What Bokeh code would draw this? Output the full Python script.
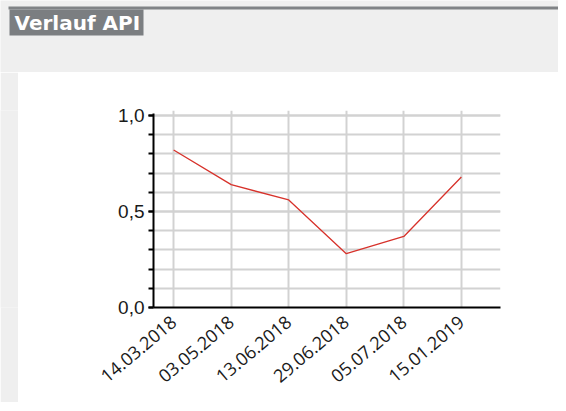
from bokeh.plotting import figure
from bokeh.models import Range1d, FixedTicker, SingleIntervalTicker, Label
from bokeh.layouts import column, row
from bokeh.embed import file_html
from bokeh.resources import INLINE

title_text = "Verlauf API"
dates = ["14.03.2018", "03.05.2018", "13.06.2018", "29.06.2018", "05.07.2018", "15.01.2019"]
api_values = [0.82, 0.64, 0.56, 0.28, 0.37, 0.68]
y_tick_labels = {0: "0,0", 0.5: "0,5", 1: "1,0"}

PAGE_BG = "#efefef"
BAR_GRAY = "#7b7e81"
GRID = "#d2d2d2"

# ---------- header (title bar) ----------
header = figure(width=558, height=72, output_backend="svg", toolbar_location=None,
                x_range=Range1d(0, 558), y_range=Range1d(72, 0),
                x_axis_location=None, y_axis_location=None, min_border=0)
header.background_fill_color = PAGE_BG
header.border_fill_color = PAGE_BG
header.outline_line_color = None
header.grid.visible = False
header.quad(left=[8], right=[558], top=[6], bottom=[9], fill_color="#808386", line_color=None)
header.quad(left=[9], right=[143], top=[9], bottom=[35], fill_color=BAR_GRAY, line_color=None)
header.add_layout(Label(x=14, y=22, text=title_text, text_color="white",
                        text_font="DejaVu Sans", text_font_style="bold",
                        text_font_size="20px", text_baseline="middle", text_align="left"))

# ---------- left gray strip ----------
spacer = figure(width=18, height=330, output_backend="svg", toolbar_location=None,
                x_axis_location=None, y_axis_location=None, min_border=0)
spacer.background_fill_color = PAGE_BG
spacer.border_fill_color = PAGE_BG
spacer.outline_line_color = None
spacer.grid.visible = False

# ---------- main chart ----------
xs = list(range(len(dates)))
p = figure(width=540, height=330, output_backend="svg", toolbar_location=None,
           x_range=Range1d(-0.35, 5.68), y_range=Range1d(0, 1.026),
           min_border_left=135, min_border_right=58, min_border_top=38,
           min_border_bottom=95)
p.border_fill_color = "white"
p.background_fill_color = "white"
p.outline_line_color = None

p.line(xs, api_values, line_color="#d7322b", line_width=1.3)

p.xaxis.ticker = FixedTicker(ticks=xs)
p.xaxis.major_label_overrides = {i: d for i, d in enumerate(dates)}
p.xaxis.major_label_orientation = 0.7
p.xaxis.major_tick_line_color = None
p.xaxis.minor_tick_line_color = None
p.xaxis.axis_line_color = "black"
p.xaxis.axis_line_width = 2
p.xaxis.major_label_text_font = "Open Sans"
p.xaxis.major_label_text_font_size = "18px"
p.xaxis.major_label_text_color = "#1a1a1a"
p.xaxis.major_label_standoff = 6

p.yaxis.ticker = SingleIntervalTicker(interval=0.5, num_minor_ticks=5)
p.yaxis.bounds = (0, 1.01)
p.yaxis.major_label_overrides = y_tick_labels
p.yaxis.axis_line_color = "black"
p.yaxis.axis_line_width = 2
p.yaxis.major_tick_in = 0
p.yaxis.major_tick_out = 5
p.yaxis.minor_tick_in = 0
p.yaxis.minor_tick_out = 5
p.yaxis.major_tick_line_width = 2
p.yaxis.minor_tick_line_width = 2
p.yaxis.major_label_text_font = "Liberation Sans"
p.yaxis.major_label_text_font_size = "19px"
p.yaxis.major_label_text_color = "#1a1a1a"
p.yaxis.major_label_standoff = 4

p.xgrid.grid_line_color = GRID
p.xgrid.grid_line_width = 2
p.ygrid.grid_line_color = GRID
p.ygrid.grid_line_width = 2
p.ygrid.minor_grid_line_color = GRID
p.ygrid.minor_grid_line_width = 2

layout = column(header, row(spacer, p))
open("out.html", "w").write(file_html(layout, INLINE))
